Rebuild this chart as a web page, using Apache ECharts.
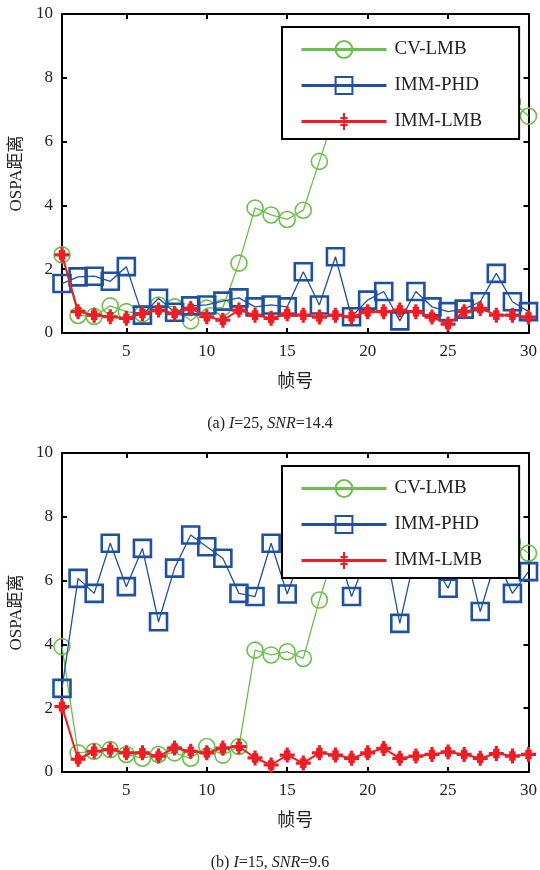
<!DOCTYPE html>
<html><head><meta charset="utf-8">
<script src="https://cdn.jsdelivr.net/npm/echarts@6/dist/echarts.min.js"></script>
<style>html,body{margin:0;padding:0;background:#fff}#c{width:540px;height:870px}</style>
</head><body><div id="c"></div><script>
const frames = [1,2,3,4,5,6,7,8,9,10,11,12,13,14,15,16,17,18,19,20,21,22,23,24,25,26,27,28,29,30];
const xTicks = [5,10,15,20,25,30];
const seriesNames = ['CV-LMB','IMM-PHD','IMM-LMB'];
const captions = ['(a) {i|I}=25, {i|SNR}=14.4', '(b) {i|I}=15, {i|SNR}=9.6'];
const xName = '帧号';
const yName = 'OSPA距离';

// (a) I=25, SNR=14.4
const topCV  = [2.45,0.55,0.52,0.85,0.67,0.6,0.88,0.82,0.38,0.78,0.8,2.19,3.92,3.7,3.56,3.85,5.38,6.9,7.1,7.0,7.3,6.9,7.1,7.3,7.0,7.2,6.9,7.1,7.25,6.8];
const topPHD = [1.55,1.76,1.78,1.62,2.08,0.56,1.09,0.65,0.85,0.88,1.0,1.1,0.82,0.88,0.82,1.92,0.88,2.39,0.51,1.03,1.3,0.38,1.3,0.82,0.67,0.75,0.98,1.87,0.98,0.67];
const topLMB = [2.45,0.67,0.56,0.51,0.46,0.61,0.72,0.61,0.77,0.51,0.4,0.72,0.56,0.46,0.6,0.56,0.5,0.56,0.51,0.67,0.67,0.72,0.67,0.5,0.28,0.67,0.77,0.56,0.56,0.5];
// (b) I=15, SNR=9.6
const botCV  = [3.93,0.6,0.65,0.7,0.55,0.43,0.55,0.6,0.43,0.8,0.53,0.8,3.82,3.67,3.77,3.56,5.39,7.0,7.2,6.9,7.1,7.3,7.0,6.8,7.1,7.2,6.9,7.0,7.2,6.86];
const botPHD = [2.62,6.07,5.6,7.17,5.81,7.01,4.71,6.39,7.43,7.06,6.7,5.6,5.5,7.17,5.58,7.0,6.6,7.2,5.5,6.8,7.3,4.66,6.9,6.6,5.76,7.1,5.03,6.7,5.6,6.28];
const botLMB = [2.05,0.4,0.65,0.7,0.6,0.6,0.5,0.75,0.65,0.6,0.75,0.8,0.44,0.22,0.53,0.28,0.6,0.53,0.43,0.6,0.74,0.43,0.5,0.55,0.63,0.55,0.43,0.58,0.5,0.55];

const panels = [[topCV, topPHD, topLMB], [botCV, botPHD, botLMB]];

const SERIF = '"Liberation Serif", "Times New Roman", serif';
const CJK = '"Noto Sans CJK SC", sans-serif';
const colors = ['#6cbf4c', '#1f50a2', '#ee1d25'];
const symbols = ['circle', 'rect', 'path://M0,-7L0,7M-7,0L7,0M-3,-3L3,-3M-3,3L3,3'];
const symbolSizes = [16, 17, 15];
const lineWidths = [1.3, 1.3, 2];
const borderWidths = [1.6, 2.6, 3.2];

const gridTops = [14, 453];
const grid = gridTops.map(t => ({left: 62, top: t, width: 470, height: 319}));

const axisLine = {show: true, onZero: false, lineStyle: {color: '#000', width: 2}};
const tick = {show: true, inside: true, length: 5, lineStyle: {color: '#000', width: 2}};

const xAxis = [], yAxis = [], series = [], legend = [], title = [];
gridTops.forEach((t, gi) => {
  xAxis.push({gridIndex: gi, type: 'value', min: 1, max: 30, position: 'bottom',
    axisLine, axisTick: Object.assign({customValues: xTicks}, tick),
    axisLabel: {customValues: xTicks, fontFamily: SERIF, fontSize: 17, color: '#222', margin: 10},
    splitLine: {show: false},
    name: xName, nameLocation: 'middle', nameGap: 38,
    nameTextStyle: {fontFamily: CJK, fontSize: 18, color: '#222'}});
  xAxis.push({gridIndex: gi, type: 'value', min: 1, max: 30, position: 'top',
    axisLine, axisTick: Object.assign({customValues: xTicks}, tick),
    axisLabel: {show: false}, splitLine: {show: false}});
  yAxis.push({gridIndex: gi, type: 'value', min: 0, max: 10, interval: 2, position: 'left',
    axisLine, axisTick: tick,
    axisLabel: {fontFamily: SERIF, fontSize: 17, color: '#222', margin: 9},
    splitLine: {show: false},
    name: yName, nameLocation: 'middle', nameGap: 24, nameRotate: 90,
    nameTextStyle: {fontFamily: SERIF + ', ' + CJK, fontSize: 17, color: '#222'}});
  yAxis.push({gridIndex: gi, type: 'value', min: 0, max: 10, interval: 2, position: 'right',
    axisLine, axisTick: tick, axisLabel: {show: false}, splitLine: {show: false}});

  panels[gi].forEach((arr, si) => {
    series.push({
      name: seriesNames[si], type: 'line', xAxisIndex: gi * 2, yAxisIndex: gi * 2,
      data: frames.map((f, i) => [f, arr[i]]),
      symbol: symbols[si], symbolSize: symbolSizes[si], showAllSymbol: true,
      lineStyle: {color: colors[si], width: lineWidths[si]},
      itemStyle: {color: 'rgba(255,255,255,0)', borderColor: colors[si], borderWidth: borderWidths[si]},
      emphasis: {disabled: true}, animation: false, z: 2 + si
    });
  });

  legend.push({
    orient: 'vertical', left: 282, top: t + 13,
    data: seriesNames, itemWidth: 85, itemHeight: 21, itemGap: 17,
    padding: [13, 37, 8, 18], borderColor: '#000', borderWidth: 2, backgroundColor: '#fff',
    textStyle: {fontFamily: SERIF, fontSize: 19, color: '#222', padding: [0, 0, 0, 3]},
    lineStyle: {width: 3}, selectedMode: false, z: 10
  });

  title.push({
    text: captions[gi], left: 'center', top: t + 397,
    textStyle: {fontFamily: SERIF, fontSize: 16, fontWeight: 'normal', color: '#222',
      rich: {i: {fontFamily: SERIF, fontSize: 16, fontStyle: 'italic', color: '#222'}}}
  });
});

const chart = echarts.init(document.getElementById('c'), null, {renderer: 'canvas'});
chart.setOption({animation: false, backgroundColor: '#fff', grid, xAxis, yAxis, series, legend, title});
</script></body></html>
